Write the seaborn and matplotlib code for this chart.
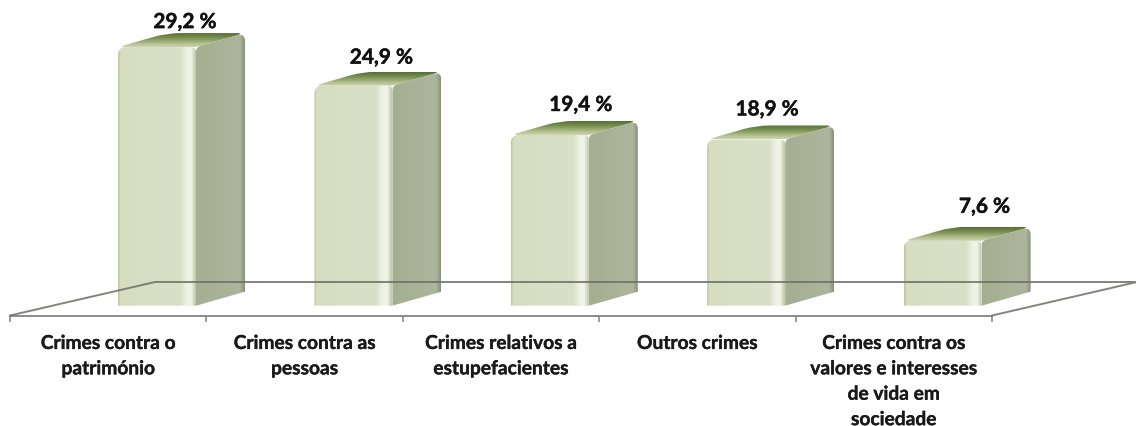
import matplotlib
matplotlib.use("Agg")
import matplotlib.pyplot as plt
import matplotlib.patheffects as pe
import numpy as np
import seaborn as sns
from matplotlib.colors import LinearSegmentedColormap
from matplotlib.path import Path
from matplotlib.patches import PathPatch

categories = ["Crimes contra o\npatrimónio", "Crimes contra as\npessoas",
              "Crimes relativos a\nestupefacientes", "Outros crimes",
              "Crimes contra os\nvalores e interesses\nde vida em\nsociedade"]
values = [29.2, 24.9, 19.4, 18.9, 7.6]

# label nudges in pixels (x from bar centre, y from bar top)
label_dx = [28, 28, 31, 21, 42]
label_dy = [25, 28, 30, 30, 34]

# picture scale: pixels per category / per percent, where bar 0 and value 0 sit
PX = 196.4
PY = 8.97
X0 = 157
Y0 = 310
W, H = 1136, 427
DEPTH_X = 49 / PX
DEPTH_Y = 14 / PY
# the box floor hides the very bottom of the bars
CUT = 3.3 / PY

front_cmap = LinearSegmentedColormap.from_list("front", [
    (0, "#b9c596"), (0.03, "#d6ddc1"), (0.8, "#d9e0c8"), (0.88, "#eef1e2"),
    (0.94, "#f1f4e8"), (1, "#bcc5a8")])
side_cmap = LinearSegmentedColormap.from_list("side", [
    (0, "#a4ae90"), (0.9, "#adb69d"), (1, "#868f78")])
top_cmap = LinearSegmentedColormap.from_list("top", [
    (0, "#566e34"), (0.35, "#7a9052"), (0.75, "#b3c08f"), (1, "#cdd6b3")])


def rounded(points, radii):
    # closed path with the corners cut by a small curve (radii in pixels)
    verts, codes = [], []
    n = len(points)
    for i in range(n):
        p = np.array(points[i])
        a = np.array(points[i - 1])
        b = np.array(points[(i + 1) % n])
        scale = np.array([PX, PY])
        to_a = (a - p) * scale
        to_b = (b - p) * scale
        r = radii[i]
        start = p + to_a / np.linalg.norm(to_a) * r / scale
        end = p + to_b / np.linalg.norm(to_b) * r / scale
        verts.append(start)
        codes.append(Path.MOVETO if i == 0 else Path.LINETO)
        verts += [p, end]
        codes += [Path.CURVE3, Path.CURVE3]
    verts.append(verts[0])
    codes.append(Path.CLOSEPOLY)
    return Path(verts, codes)


def fill(path, cmap, axis, zorder):
    # gradient image clipped to the face outline
    x0, y0 = path.vertices.min(axis=0)
    x1, y1 = path.vertices.max(axis=0)
    ramp = np.linspace(0, 1, 256)
    grad = ramp[None, :] if axis == "x" else ramp[:, None]
    im = ax.imshow(grad, cmap=cmap, extent=(x0, x1, y0, y1), origin="upper",
                   aspect="auto", interpolation="bilinear", zorder=zorder, vmin=0, vmax=1)
    clip = PathPatch(path, transform=ax.transData, fc="none", ec="none")
    ax.add_patch(clip)
    im.set_clip_path(clip)


fig = plt.figure(figsize=(W / 100, H / 100), dpi=100)
ax = fig.add_axes([0, 0, 1, 1])
ax.set_facecolor("white")

sns.barplot(x=categories, y=values, width=78 / PX, color="#d9e0c8", ax=ax, zorder=1)

bold = [pe.withStroke(linewidth=0.3, foreground="#111111")]

for bar, dx, dy in zip(ax.patches, label_dx, label_dy):
    x0 = bar.get_x()
    x1 = x0 + bar.get_width()
    v = bar.get_height()
    bar.set_visible(False)
    side = [(x1, CUT), (x1 + DEPTH_X, CUT + DEPTH_Y), (x1 + DEPTH_X, v + DEPTH_Y), (x1, v)]
    top = [(x0, v), (x0 + DEPTH_X, v + DEPTH_Y), (x1 + DEPTH_X, v + DEPTH_Y), (x1, v)]
    front = [(x0, CUT), (x0, v), (x1, v), (x1, CUT)]
    fill(rounded(top, [8, 14, 9, 1]), top_cmap, "y", 2)
    fill(rounded(side, [0.1, 0.1, 8, 5]), side_cmap, "x", 3)
    fill(rounded(front, [0.1, 8, 5, 0.1]), front_cmap, "x", 4)
    ax.annotate(f"{v:.1f} %".replace(".", ","), xy=((x0 + x1) / 2, v),
                xytext=(dx * 0.72, dy * 0.72), textcoords="offset points",
                ha="center", va="center", fontsize=15, fontweight="bold",
                family="Lato", color="#111111", zorder=6, path_effects=bold)

# floor of the 3D box
edges = (10 + PX * np.arange(6) - X0) / PX
floor_y = (Y0 - 316.5) / PY
back_y = (Y0 - 283) / PY
shift = 145 / PX
ax.plot([edges[0], edges[0] + shift, edges[-1] + shift, edges[-1]],
        [floor_y, back_y, back_y, floor_y], color="#6f6f66", lw=1.4, alpha=0.85, zorder=5)

sns.despine(ax=ax, left=True, right=True, top=True, bottom=False)
ax.spines["bottom"].set_position(("data", floor_y))
ax.spines["bottom"].set_bounds(edges[0], edges[-1])
ax.spines["bottom"].set_color("#8a8a8a")
ax.spines["bottom"].set_linewidth(1.4)
ax.set_yticks([])
ax.set_xticks(edges)
ax.set_xticklabels([])
ax.tick_params(axis="x", which="major", length=4, width=1.2, color="#8a8a8a")
ax.set_xticks(np.arange(5) - 49 / PX, minor=True)
ax.set_xticklabels(categories, minor=True, fontsize=13.8, fontweight="bold",
                   family="Lato", color="#1a1a1a", linespacing=1.6,
                   path_effects=[pe.withStroke(linewidth=0.25, foreground="#1a1a1a")])
ax.tick_params(axis="x", which="minor", length=0, pad=14)

ax.set_xlim((0 - X0) / PX, (W - X0) / PX)
ax.set_ylim((Y0 - H) / PY, Y0 / PY)
fig.savefig("out.png", dpi=100, facecolor="white")
